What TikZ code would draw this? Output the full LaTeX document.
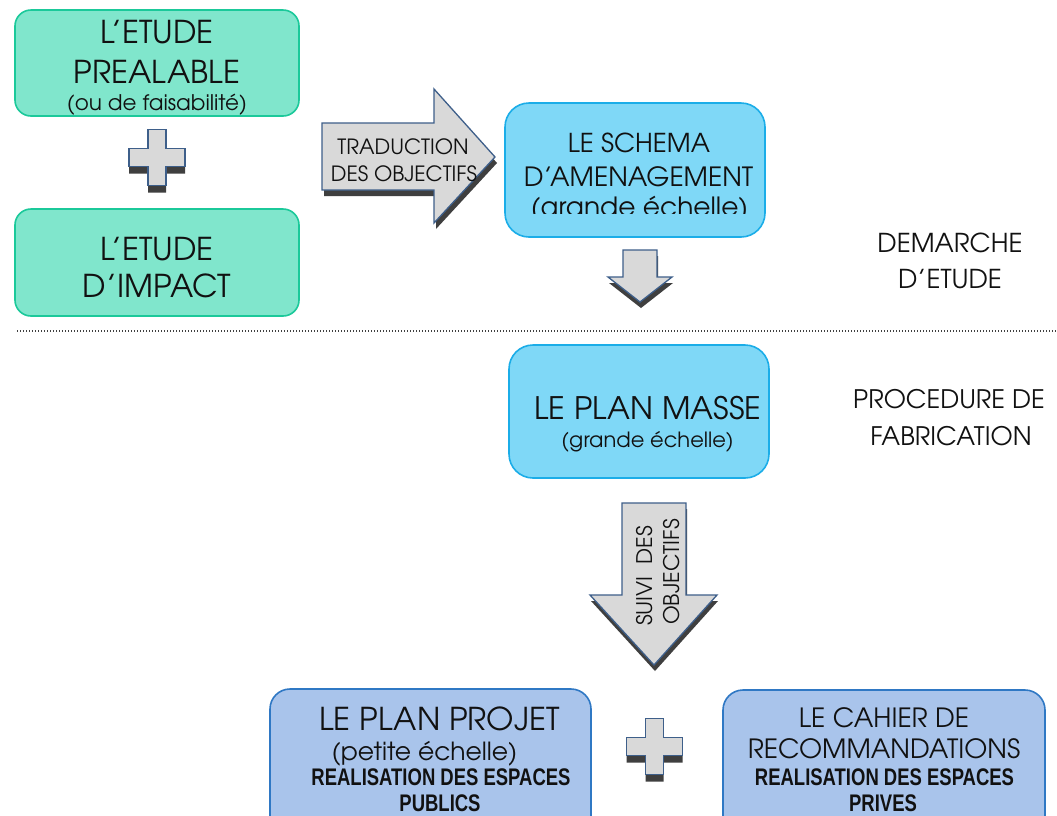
\documentclass[tikz,border=0pt]{standalone}
\usepackage{fontspec}
\setmainfont{texgyreadventor}[Extension=.otf, UprightFont=*-regular, BoldFont=*-bold, ItalicFont=*-italic, BoldItalicFont=*-bolditalic, Ligatures=TeX]
\newfontfamily\narrowbf{Liberation Sans}[FakeStretch=0.77]
\newcommand\fsz[1]{\fontsize{#1pt}{#1pt}\selectfont}
\definecolor{gfill}{HTML}{80E6CC}
\definecolor{gborder}{HTML}{1BC99A}
\definecolor{cfill}{HTML}{7FD8F7}
\definecolor{cborder}{HTML}{1BADE8}
\definecolor{bfill}{HTML}{A9C4EB}
\definecolor{bborder}{HTML}{2F78C4}
\definecolor{afill}{HTML}{D9D9D9}
\definecolor{aborder}{HTML}{3E5F8A}
\definecolor{shadowc}{HTML}{3F3F3F}
\definecolor{textc}{HTML}{111111}
\begin{document}
\begin{tikzpicture}[x=1pt,y=-1pt,
  greenbox/.style={draw=gborder, fill=gfill, line width=1.6pt, rounded corners=16pt, inner sep=0pt},
  cyanbox/.style={draw=cborder, fill=cfill, line width=1.6pt, rounded corners=24pt, inner sep=0pt},
  bluebox/.style={draw=bborder, fill=bfill, line width=1.6pt, rounded corners=20pt, inner sep=0pt},
  blockarrow/.style={draw=aborder, fill=afill, line width=1.3pt, line join=miter},
  shadowpart/.style={fill=shadowc, draw=none},
  txt/.style={inner sep=0pt, anchor=base, text=textc},
  bnarrow/.style={txt, font=\narrowbf\bfseries\fsz{24}},
  plussign/.pic={
    \path[shadowpart, shift={(0,7)}] (-9,-28) -- (9,-28) -- (9,-9) -- (28,-9) -- (28,9) -- (9,9) -- (9,28) -- (-9,28) -- (-9,9) -- (-28,9) -- (-28,-9) -- (-9,-9) -- cycle;
    \path[blockarrow] (-9,-28) -- (9,-28) -- (9,-9) -- (28,-9) -- (28,9) -- (9,9) -- (9,28) -- (-9,28) -- (-9,9) -- (-28,9) -- (-28,-9) -- (-9,-9) -- cycle;
  }]
\useasboundingbox (0,0) rectangle (1057,815);
\clip (0,0) rectangle (1057,815);
\fill[white] (0,0) rectangle (1057,815);

% --- green boxes ---
\node[greenbox, minimum width=284pt, minimum height=106pt] (prealable) at (157,63) {};
\node[txt, font=\fsz{31.5}] (t1a) at (157,43) {L’ETUDE};
\node[txt, font=\fsz{31.5}] (t1b) at (157,83) {PREALABLE};
\node[txt, font=\fsz{21.5}] (t1c) at (157,110) {(ou de faisabilité)};

\pic at (157,157.5) {plussign};

\node[greenbox, minimum width=284pt, minimum height=107pt] (impact) at (157,262.5) {};
\node[txt, font=\fsz{31.5}] (t2a) at (157,260) {L’ETUDE};
\node[txt, font=\fsz{31.5}] (t2b) at (157,297) {D’IMPACT};

% --- right arrow ---
\path[shadowpart, shift={(2,6)}] (322,123) -- (434,123) -- (434,89) -- (495,157) -- (434,223) -- (434,190) -- (322,190) -- cycle;
\path[blockarrow] (322,123) -- (434,123) -- (434,89) -- (495,157) -- (434,223) -- (434,190) -- (322,190) -- cycle;
\node[txt, font=\fsz{21}] (trad1) at (403,154) {TRADUCTION};
\node[txt, font=\fsz{21}] (trad2) at (404,181) {DES OBJECTIFS};

% --- schema box ---
\node[cyanbox, minimum width=260pt, minimum height=134pt] (schema) at (635,170) {};
\node[txt, font=\fsz{26}] (s1) at (639,152) {LE SCHEMA};
\node[txt, font=\fsz{26.5}] (s2) at (638.5,186) {D’AMENAGEMENT};
\begin{scope}
\clip (505,100) rectangle (765,213.5);
\node[txt, font=\fsz{26.5}] (s3) at (639.5,216) {(grande échelle)};
\end{scope}

% --- small down arrow ---
\path[shadowpart, shift={(1,6)}] (623,250) -- (657,250) -- (657,277) -- (672,277) -- (640,302) -- (608,277) -- (623,277) -- cycle;
\path[blockarrow] (623,250) -- (657,250) -- (657,277) -- (672,277) -- (640,302) -- (608,277) -- (623,277) -- cycle;

\node[txt, font=\fsz{26}] (dem1) at (950,252) {DEMARCHE};
\node[txt, font=\fsz{26}] (dem2) at (950,288) {D’ETUDE};

% --- dotted separator ---
\coordinate (sepL) at (17,331);
\coordinate (sepR) at (1057,331);
\draw[black!75, line width=1.2pt, dash pattern=on 1.2pt off 1.8pt] (sepL) -- (sepR);

% --- plan masse ---
\node[cyanbox, minimum width=260pt, minimum height=133pt] (masse) at (639,411.5) {};
\node[txt, font=\fsz{31}] (m1) at (648,419) {LE PLAN MASSE};
\node[txt, font=\fsz{21}] (m2) at (647.5,447) {(grande échelle)};

\node[txt, font=\fsz{25.5}] (proc1) at (949,408) {PROCEDURE DE};
\node[txt, font=\fsz{25.5}] (proc2) at (951,445) {FABRICATION};

% --- big down arrow ---
\path[shadowpart, shift={(1,6)}] (622,503) -- (686,503) -- (686,595) -- (717,595) -- (654,665) -- (590,595) -- (622,595) -- cycle;
\path[blockarrow] (622,503) -- (686,503) -- (686,595) -- (717,595) -- (654,665) -- (590,595) -- (622,595) -- cycle;
\node[txt, font=\fsz{21.5}, rotate=90] (suivi1) at (652,576) {SUIVI\ \ DES};
\node[txt, font=\fsz{21.5}, rotate=90] (suivi2) at (679,572) {OBJECTIFS};

% --- bottom boxes ---
\node[bluebox, minimum width=321pt, minimum height=161pt] (projet) at (430.5,769.5) {};
\node[txt, font=\fsz{31.5}] (p1) at (439.5,730) {LE PLAN PROJET};
\node[txt, font=\fsz{25}] (p2) at (424.5,760) {(petite échelle)};
\node[bnarrow] (p3) at (441,785) {REALISATION DES ESPACES};
\node[bnarrow] (p4) at (440,811.5) {PUBLICS};

\pic at (654.5,746.5) {plussign};

\node[bluebox, minimum width=322pt, minimum height=160pt] (cahier) at (884,770) {};
\node[txt, font=\fsz{26.5}] (c1) at (884,727) {LE CAHIER DE};
\node[txt, font=\fsz{26.5}] (c2) at (884,758) {RECOMMANDATIONS};
\node[bnarrow] (c3) at (884.5,785) {REALISATION DES ESPACES};
\node[bnarrow] (c4) at (883,811) {PRIVES};
\end{tikzpicture}
\end{document}
